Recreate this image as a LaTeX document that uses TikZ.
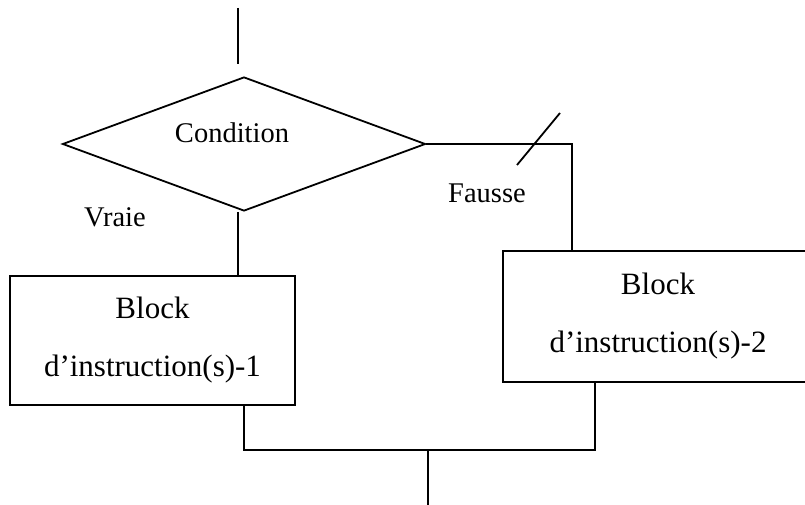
\documentclass[tikz,border=0pt]{standalone}
\usepackage{fontspec}
\setmainfont{Liberation Serif}
\usetikzlibrary{positioning,shapes.geometric}
\tikzstyle{decision} = [diamond, draw, line width=1.8pt, minimum width=363pt, minimum height=134pt, inner sep=0pt]
\tikzstyle{block} = [rectangle, draw, line width=1.8pt, align=center, font=\fontsize{31}{58}\selectfont]
\tikzstyle{lbl} = [font=\fontsize{28.5}{34}\selectfont]
\tikzstyle{line} = [draw, line width=1.8pt]

\begin{document}
\begin{tikzpicture}[x=1pt,y=-1pt]
	\useasboundingbox (0,0) rectangle (805,505);
	\node [decision] (cond) at (244,144) {};
	\node [lbl] (condtext) at (232,133) {Condition};
	\node [block, minimum width=285pt, minimum height=129pt] (bloc1) at (152.5,340.5) {Block\\d’instruction(s)-1};
	\node [block, minimum width=310pt, minimum height=131pt] (bloc2) at (658,316.5) {Block\\d’instruction(s)-2};
	\node [lbl] (vraie) at (115,217) {Vraie};
	\node [lbl] (fausse) at (487,193) {Fausse};
	\coordinate (entree) at (238,8);
	\coordinate (entreebas) at (238,64);
	\coordinate (jonction) at (428,450);
	\coordinate (sortie) at (428,505);
	\coordinate (barre) at (538.5,139);
	
	\path[line] (entree) -- (entreebas);
	\path[line] ([xshift=-6pt]cond.south) -- ([xshift=-6pt]cond.south |- bloc1.north);
	\path[line] (cond.east) -| ([xshift=70pt]bloc2.north west);
	\path[line] ([shift={(-21.5,26)}]barre) -- ([shift={(21.5,-26)}]barre);
	\path[line] ([xshift=235pt]bloc1.south west) |- (jonction) -| ([xshift=93pt]bloc2.south west);
	\path[line] (jonction) -- (sortie);
\end{tikzpicture}
\end{document}
